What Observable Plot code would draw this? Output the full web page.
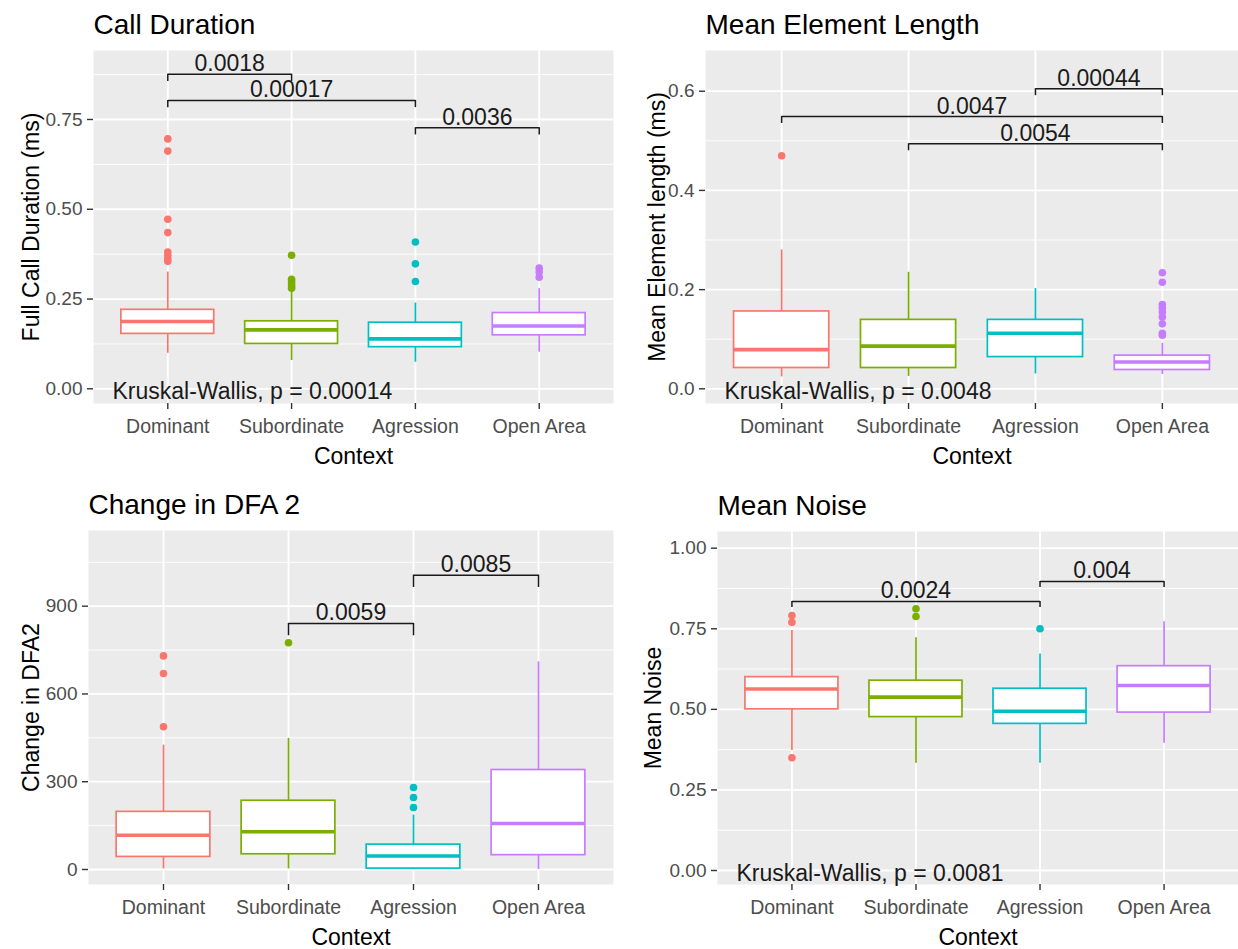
<!DOCTYPE html>
<html>
<head>
<meta charset="utf-8">
<script src="https://cdn.jsdelivr.net/npm/d3@7"></script>
<script src="https://cdn.jsdelivr.net/npm/@observablehq/plot@0.6"></script>
<style>
  body { margin: 0; background: #fff; }
  #page { position: relative; width: 1238px; height: 949px; overflow: hidden; background: #fff; }
  .cell { position: absolute; }
</style>
</head>
<body>
<div id="page"></div>
<script>
// Groups on the x axis and their ggplot-style hue colours
const categories = ["Dominant", "Subordinate", "Agression", "Open Area"];
const groupColors = ["#F8766D", "#7CAE00", "#00BFC4", "#C77CFF"];
const xTitle = "Context";

// Call Duration: box summaries (q1, median, q3, whisker ends) and outliers
const durQ1 = [0.153, 0.125, 0.116, 0.149];
const durMedian = [0.1875, 0.164, 0.139, 0.175];
const durQ3 = [0.220, 0.188, 0.184, 0.211];
const durLo = [0.099, 0.079, 0.074, 0.102];
const durHi = [0.325, 0.275, 0.239, 0.279];
const durOutliers = [
  [0.696, 0.662, 0.472, 0.435, 0.381, 0.371, 0.362, 0.355],
  [0.372, 0.305, 0.298, 0.292, 0.285, 0.280],
  [0.409, 0.348, 0.299],
  [0.336, 0.325, 0.311]
];
const durBrackets = [
  {from: 1, to: 2, y: 0.876, label: "0.0018"},
  {from: 1, to: 3, y: 0.803, label: "0.00017"},
  {from: 3, to: 4, y: 0.727, label: "0.0036"}
];
const durKruskal = "Kruskal-Wallis, p = 0.00014";

// Mean Element Length
const lenQ1 = [0.042, 0.042, 0.064, 0.038];
const lenMedian = [0.079, 0.086, 0.112, 0.054];
const lenQ3 = [0.156, 0.139, 0.139, 0.067];
const lenLo = [0.024, 0.025, 0.030, 0.029];
const lenHi = [0.280, 0.235, 0.202, 0.092];
const lenOutliers = [
  [0.470],
  [],
  [],
  [0.234, 0.215, 0.170, 0.163, 0.155, 0.145, 0.131, 0.112, 0.108]
];
const lenBrackets = [
  {from: 3, to: 4, y: 0.605, label: "0.00044"},
  {from: 1, to: 4, y: 0.549, label: "0.0047"},
  {from: 2, to: 4, y: 0.494, label: "0.0054"}
];
const lenKruskal = "Kruskal-Wallis, p = 0.0048";

// Change in DFA 2
const dfaQ1 = [43, 52, 3, 49];
const dfaMedian = [117, 129, 46, 157];
const dfaQ3 = [197, 235, 85, 340];
const dfaLo = [2, 2, 0, 0];
const dfaHi = [425, 448, 186, 710];
const dfaOutliers = [
  [730, 670, 488],
  [775],
  [280, 246, 212],
  []
];
const dfaBrackets = [
  {from: 2, to: 3, y: 841, label: "0.0059"},
  {from: 3, to: 4, y: 1006, label: "0.0085"}
];

// Mean Noise
const noiseQ1 = [0.500, 0.476, 0.455, 0.490];
const noiseMedian = [0.563, 0.538, 0.494, 0.574];
const noiseQ3 = [0.600, 0.589, 0.564, 0.634];
const noiseLo = [0.372, 0.333, 0.333, 0.395];
const noiseHi = [0.745, 0.722, 0.672, 0.772];
const noiseOutliers = [
  [0.791, 0.770, 0.350],
  [0.812, 0.788],
  [0.750],
  []
];
const noiseBrackets = [
  {from: 1, to: 3, y: 0.835, label: "0.0024"},
  {from: 3, to: 4, y: 0.897, label: "0.004"}
];
const noiseKruskal = "Kruskal-Wallis, p = 0.0081";

const FONT = "'Liberation Sans', Arial, Helvetica, sans-serif";
const positions = categories.map((c, i) => i + 1);

function boxPanel(o) {
  const boxes = categories.map((c, i) => ({
    category: c, pos: i + 1,
    q1: o.q1[i], median: o.median[i], q3: o.q3[i], lo: o.lo[i], hi: o.hi[i]
  }));
  const points = o.outliers.flatMap((vals, i) =>
    vals.map(v => ({category: categories[i], pos: i + 1, value: v})));
  const half = 0.375; // box half-width in category units
  const marks = [
    Plot.frame({fill: "#EBEBEB", stroke: "none"}),
    Plot.gridY({ticks: o.yMinor, stroke: "white", strokeOpacity: 1, strokeWidth: 0.9}),
    Plot.gridY({ticks: o.yTicks, stroke: "white", strokeOpacity: 1, strokeWidth: 1.8}),
    Plot.gridX({ticks: positions, stroke: "white", strokeOpacity: 1, strokeWidth: 1.8}),
    Plot.axisY({ticks: o.yTicks, tickFormat: o.yFormat, tickSize: 6, tickPadding: 5,
      fontSize: 19, fill: "#4D4D4D", stroke: "#333333", strokeWidth: 1.4, label: null}),
    Plot.axisX({ticks: positions, tickFormat: p => categories[p - 1], tickSize: 6, tickPadding: 10,
      fontSize: 19.5, fill: "#4D4D4D", stroke: "#333333", strokeWidth: 1.4, label: null}),
    // whiskers
    Plot.ruleX(boxes, {x: "pos", y1: "q3", y2: "hi", stroke: "category", strokeWidth: 1.7}),
    Plot.ruleX(boxes, {x: "pos", y1: "lo", y2: "q1", stroke: "category", strokeWidth: 1.7}),
    // boxes and medians
    Plot.rect(boxes, {x1: d => d.pos - half, x2: d => d.pos + half, y1: "q1", y2: "q3",
      fill: "white", stroke: "category", strokeWidth: 1.7}),
    Plot.ruleY(boxes, {y: "median", x1: d => d.pos - half, x2: d => d.pos + half,
      stroke: "category", strokeWidth: 3.6}),
    // outliers
    Plot.dot(points, {x: "pos", y: "value", r: 3.8, fill: "category", stroke: "none"}),
    // pairwise comparison brackets
    Plot.link(o.brackets, {x1: "from", x2: "to", y1: "y", y2: "y", stroke: "#1A1A1A", strokeWidth: 1.5}),
    Plot.ruleX(o.brackets, {x: "from", y1: "y", y2: d => d.y - o.tip, stroke: "#1A1A1A", strokeWidth: 1.5}),
    Plot.ruleX(o.brackets, {x: "to", y1: "y", y2: d => d.y - o.tip, stroke: "#1A1A1A", strokeWidth: 1.5}),
    Plot.text(o.brackets, {x: d => (d.from + d.to) / 2, y: "y", text: "label", lineAnchor: "bottom",
      dy: -3, fontSize: 23, fill: "#1A1A1A"}),
    // titles
    Plot.text([o.title], {frameAnchor: "top-left", textAnchor: "start", lineAnchor: "bottom",
      dy: -17, fontSize: 28, fill: "black"}),
    Plot.text([o.yLabel], {frameAnchor: "left", textAnchor: "middle", rotate: -90, lineAnchor: "bottom",
      dx: -o.yTitleGap, fontSize: 23, fill: "black"}),
    Plot.text([xTitle], {frameAnchor: "bottom", textAnchor: "middle", lineAnchor: "bottom",
      dy: 60, fontSize: 23, fill: "black"})
  ];
  if (o.kruskal) {
    marks.push(Plot.text([{value: 0, label: o.kruskal}], {y: "value", text: "label", frameAnchor: "left",
      textAnchor: "start", lineAnchor: "bottom", dx: 19, dy: 10, fontSize: 23, fill: "#1A1A1A"}));
  }
  return Plot.plot({
    width: o.width, height: o.height,
    marginLeft: o.margin[3], marginRight: o.margin[1], marginTop: o.margin[0], marginBottom: o.margin[2],
    style: {fontFamily: FONT, background: "transparent", overflow: "visible"},
    x: {domain: [0.4, 4.6]},
    y: {domain: o.yDomain},
    color: {domain: categories, range: groupColors},
    marks
  });
}

const fmt2 = d3.format(".2f");
const fmt1 = d3.format(".1f");

const panels = [
  {left: 0, top: 0, plot: boxPanel({
    title: "Call Duration", yLabel: "Full Call Duration (ms)",
    q1: durQ1, median: durMedian, q3: durQ3, lo: durLo, hi: durHi, outliers: durOutliers,
    brackets: durBrackets, tip: 0.02, kruskal: durKruskal,
    yDomain: [-0.0409, 0.9421], yTicks: [0, 0.25, 0.5, 0.75], yMinor: [0.125, 0.375, 0.625, 0.875],
    yFormat: fmt2, yTitleGap: 55, width: 620, height: 470, margin: [50, 7, 67, 93]
  })},
  {left: 618, top: 0, plot: boxPanel({
    title: "Mean Element Length", yLabel: "Mean Element length (ms)",
    q1: lenQ1, median: lenMedian, q3: lenQ3, lo: lenLo, hi: lenHi, outliers: lenOutliers,
    brackets: lenBrackets, tip: 0.014, kruskal: lenKruskal,
    yDomain: [-0.0296, 0.6821], yTicks: [0, 0.2, 0.4, 0.6], yMinor: [0.1, 0.3, 0.5],
    yFormat: fmt1, yTitleGap: 41, width: 620, height: 470, margin: [50, 0, 67, 87]
  })},
  {left: 0, top: 470, plot: boxPanel({
    title: "Change in DFA 2", yLabel: "Change in DFA2",
    q1: dfaQ1, median: dfaMedian, q3: dfaQ3, lo: dfaLo, hi: dfaHi, outliers: dfaOutliers,
    brackets: dfaBrackets, tip: 42, kruskal: null,
    yDomain: [-51.3, 1158.7], yTicks: [0, 300, 600, 900], yMinor: [150, 450, 750, 1050],
    yFormat: d3.format("d"), yTitleGap: 50, width: 620, height: 479, margin: [60, 7, 65, 88]
  })},
  {left: 618, top: 470, plot: boxPanel({
    title: "Mean Noise", yLabel: "Mean Noise",
    q1: noiseQ1, median: noiseMedian, q3: noiseQ3, lo: noiseLo, hi: noiseHi, outliers: noiseOutliers,
    brackets: noiseBrackets, tip: 0.019, kruskal: noiseKruskal,
    yDomain: [-0.0434, 1.0518], yTicks: [0, 0.25, 0.5, 0.75, 1], yMinor: [0.125, 0.375, 0.625, 0.875],
    yFormat: fmt2, yTitleGap: 57, width: 620, height: 479, margin: [61, 0, 65, 99]
  })}
];

const page = document.getElementById("page");
for (const p of panels) {
  const cell = document.createElement("div");
  cell.className = "cell";
  cell.style.left = p.left + "px";
  cell.style.top = p.top + "px";
  cell.appendChild(p.plot);
  page.appendChild(cell);
}
</script>
</body>
</html>
